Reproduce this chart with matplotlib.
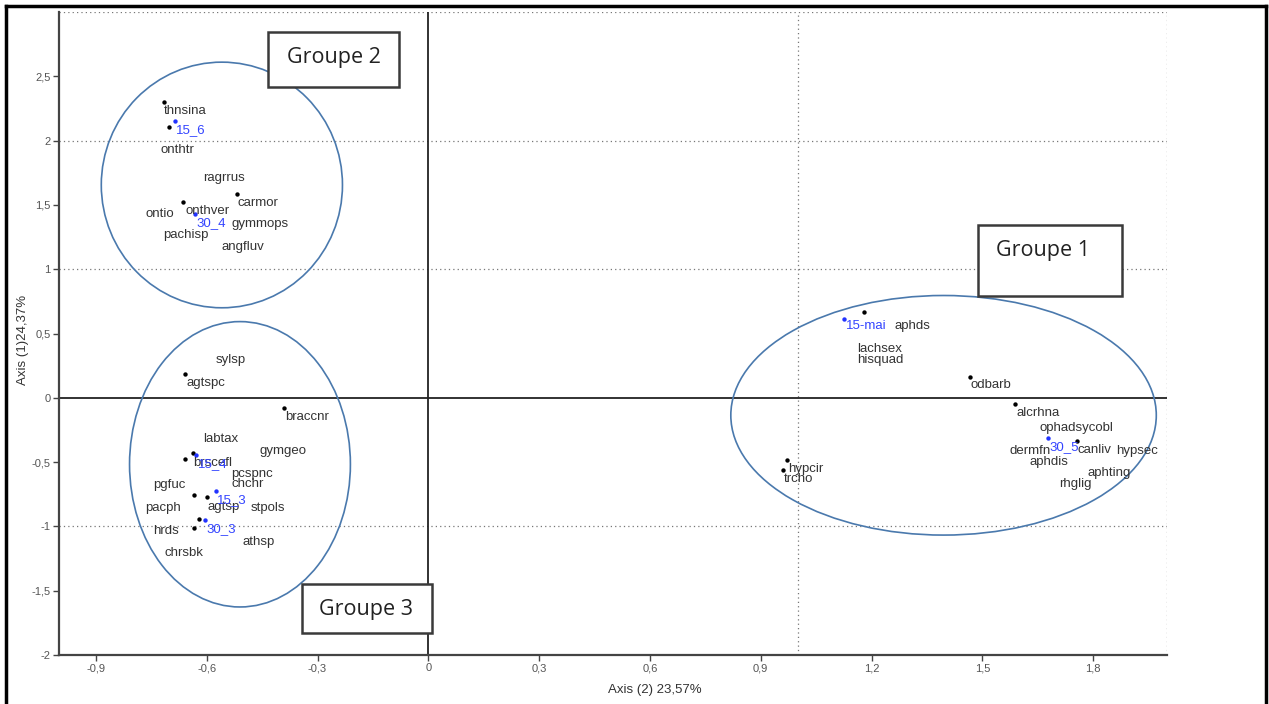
import matplotlib.pyplot as plt
import matplotlib.patches as patches
from matplotlib.lines import Line2D
from matplotlib.ticker import FuncFormatter

# sample / species points (dots)
dot_x = [-0.717, -0.703, -0.663, -0.518,
         -0.660, -0.391, -0.636, -0.660, -0.634, -0.599, -0.622, -0.634,
         1.180, 1.467, 1.589, 1.757, 0.971, 0.959]
dot_y = [2.297, 2.102, 1.525, 1.588,
         0.187, -0.076, -0.431, -0.478, -0.756, -0.774, -0.943, -1.016,
         0.665, 0.164, -0.049, -0.333, -0.483, -0.561]
date_x = [-0.686, -0.633, -0.629, -0.575, -0.604, 1.126, 1.677]
date_y = [2.149, 1.426, -0.444, -0.723, -0.951, 0.616, -0.314]

# species labels (left edge, vertical centre)
species = ["thnsina", "onthtr", "ragrrus", "carmor", "ontio", "onthver", "gymmops",
           "pachisp", "angfluv",
           "sylsp", "agtspc", "braccnr", "labtax", "gymgeo", "brscefl", "pcspnc",
           "chchr", "pgfuc", "pacph", "agtsp", "stpols", "hrds", "athsp", "chrsbk",
           "aphds", "lachsex", "hisquad", "odbarb", "alcrhna", "ophadsycobl",
           "canliv", "hypsec", "dermfn", "aphdis", "aphting", "rhglig", "hypcir", "trcho"]
species_x = [-0.717, -0.724, -0.610, -0.518, -0.766, -0.658, -0.533, -0.717, -0.559,
             -0.575, -0.656, -0.389, -0.611, -0.457, -0.636, -0.533, -0.533, -0.744,
             -0.766, -0.599, -0.482, -0.744, -0.504, -0.714,
             1.263, 1.161, 1.161, 1.468, 1.592, 1.654, 1.757, 1.862, 1.574, 1.628,
             1.784, 1.707, 0.973, 0.962]
species_y = [2.232, 1.925, 1.707, 1.518, 1.432, 1.452, 1.354, 1.265, 1.175,
             0.291, 0.115, -0.146, -0.320, -0.413, -0.504, -0.595, -0.673, -0.678,
             -0.855, -0.847, -0.860, -1.034, -1.120, -1.210,
             0.561, 0.380, 0.291, 0.096, -0.119, -0.231, -0.405, -0.413, -0.413,
             -0.501, -0.587, -0.673, -0.553, -0.631]

# sampling date labels (blue)
dates = ["15_6", "30_4", "15_4", "15_3", "30_3", "15-mai", "30_5"]
dates_x = [-0.682, -0.629, -0.624, -0.571, -0.601, 1.131, 1.682]
dates_y = [2.083, 1.362, -0.514, -0.795, -1.021, 0.556, -0.380]

x_ticks = [-0.9, -0.6, -0.3, 0, 0.3, 0.6, 0.9, 1.2, 1.5, 1.8]
y_ticks = [-2, -1.5, -1, -0.5, 0, 0.5, 1, 1.5, 2, 2.5]

# group ellipses: centre x, centre y, width, height
groups = ["Groupe 1", "Groupe 2", "Groupe 3"]
ell_cx = [1.395, -0.559, -0.510]
ell_cy = [-0.136, 1.655, -0.517]
ell_w = [1.152, 0.653, 0.598]
ell_h = [1.863, 1.91, 2.219]

W, H = 1269, 704
fig = plt.figure(figsize=(W / 100, H / 100), dpi=100)
ax = fig.add_axes([59 / W, 1 - 655 / H, 1108 / W, 643 / H])

label_font = ['Liberation Sans', 'DejaVu Sans']

ax.set_xlim(-1, 2)
ax.set_ylim(-2, 3)

# grid lines
for gy in [-1, 1, 2, 3]:
    ax.axhline(gy, color='#777777', lw=0.9, ls=(0, (1, 2.5)), zorder=1)
for gx in [1, 2]:
    ax.axvline(gx, color='#777777', lw=0.9, ls=(0, (1, 2.5)), zorder=1)
ax.axhline(0, color='#222222', lw=1.3, zorder=1)
ax.axvline(0, color='#222222', lw=1.3, zorder=1)

for i in range(len(groups)):
    e = patches.Ellipse((ell_cx[i], ell_cy[i]), ell_w[i], ell_h[i], fill=False,
                        edgecolor='#4a79ad', lw=1.2, zorder=2)
    ax.add_patch(e)

ax.scatter(dot_x, dot_y, s=10, color='black', zorder=3, linewidths=0)
ax.scatter(date_x, date_y, s=10, color='#2233ff', zorder=3, linewidths=0)

for name, sx, sy in zip(species, species_x, species_y):
    ax.text(sx, sy, name, fontsize=9.5, color='#333333', ha='left', va='center',
            family=label_font, zorder=4)
for name, sx, sy in zip(dates, dates_x, dates_y):
    ax.text(sx, sy, name, fontsize=9.5, color='#3344ff', ha='left', va='center',
            family=label_font, zorder=4)

# axes styling
for side in ['top', 'right']:
    ax.spines[side].set_visible(False)
for side in ['left', 'bottom']:
    ax.spines[side].set_color('#444444')
    ax.spines[side].set_linewidth(1.6)

comma = FuncFormatter(lambda v, p: ('%g' % v).replace('.', ','))
ax.set_xticks(x_ticks)
ax.set_yticks(y_ticks)
ax.xaxis.set_major_formatter(comma)
ax.yaxis.set_major_formatter(comma)
ax.tick_params(length=4, width=1, color='#444444', labelcolor='#555555',
               labelsize=8, pad=2)
for lab in ax.get_xticklabels() + ax.get_yticklabels():
    lab.set_family(label_font)

ax.set_xlabel('Axis (2) 23,57%', fontsize=9.5, color='#333333', family=label_font)
ax.set_ylabel('Axis (1)24,37%', fontsize=9.5, color='#333333', family=label_font)
ax.xaxis.set_label_coords(0.538, -0.054)
ax.yaxis.set_label_coords(-0.0325, 0.49)
ax.xaxis.label.set_va('center')
ax.yaxis.label.set_va('center')

# group boxes (figure pixels: left, top, right, bottom, text x, text y)
boxes = [(978, 225, 1122, 296, 1043, 251),
         (268, 32, 399, 87, 334, 58),
         (302, 584, 432, 633, 366, 609)]
for name, (l, t, r, b, tx, ty) in zip(groups, boxes):
    rect = patches.Rectangle((l / W, 1 - b / H), (r - l) / W, (b - t) / H,
                             transform=fig.transFigure, facecolor='white',
                             edgecolor='#3a3a3a', lw=1.8, zorder=5)
    fig.add_artist(rect)
    fig.text(tx / W, 1 - ty / H, name, fontsize=15.5, color='#222222', ha='center',
             va='center', family=['Open Sans', 'DejaVu Sans'], zorder=6)

# outer frame around the picture
for xs, ys in [([6, 6], [6, H]), ([6, 1266], [6, 6]), ([1266, 1266], [6, H])]:
    fig.add_artist(Line2D([x / W for x in xs], [1 - y / H for y in ys],
                          transform=fig.transFigure, color='black', lw=2.5))

fig.savefig('out.png', dpi=100)
